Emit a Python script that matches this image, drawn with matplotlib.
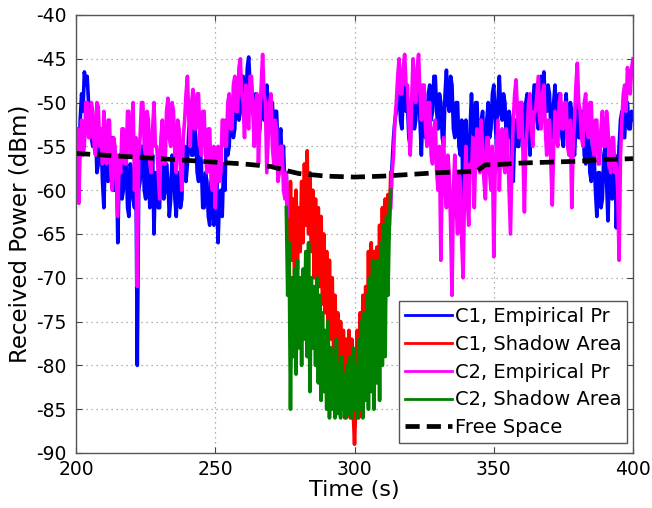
import numpy as np
import matplotlib
matplotlib.use("Agg")
import matplotlib.pyplot as plt

plt.rcParams['font.family'] = ['DejaVu Sans']
plt.rcParams['axes.unicode_minus'] = False

# ---- data, 0.5 s samples ----
# C1 empirical (blue): segment a from 200 s, segment b from 313 s
c1_emp_a = [-53, -56, -58, -52, -49, -51, -46.5, -48, -47, -50,
            -52, -54, -55, -52, -53, -58, -57, -53, -54, -59,
            -62, -56, -55, -59, -58, -54, -54, -60, -60, -56,
            -66, -58, -57, -61, -60, -55, -56, -62, -63, -57,
            -58, -61, -62, -57, -80, -60, -59, -55, -55, -60,
            -61, -56, -57, -62, -60, -56, -65, -58, -58, -62,
            -62, -56, -56, -61, -60, -57, -59, -63, -61, -56,
            -57, -61, -63, -58, -58, -62, -61, -55, -55, -59,
            -57, -53, -52, -56, -56, -52, -54, -58, -59, -55,
            -57, -62, -62, -58, -59, -63, -64, -59, -61, -64,
            -63, -59, -66, -61, -60, -63, -57, -60, -52, -56,
            -55, -51, -50, -54, -53, -49, -49, -52, -51, -47,
            -47, -51, -50, -46, -44.8, -48, -48, -51, -52, -49,
            -50, -54, -53, -50, -49, -52, -51, -48, -50, -53,
            -52, -50, -54, -51, -51, -55, -55, -53, -57, -55,
            -60, -58, -64]
c1_emp_b = [-60, -57, -54, -52, -51, -49, -48, -52, -53, -49,
            -47.5, -51, -50, -54, -55, -50, -49, -53, -52, -48,
            -48, -52, -56, -51, -50, -54, -53, -49, -48, -52,
            -51, -47, -47, -51, -53, -49, -50, -54, -55, -49,
            -46.3, -50, -51, -47, -48, -53, -54, -50, -50, -55,
            -56, -52, -63, -55, -52, -57, -62, -53, -49, -53,
            -54, -50, -50, -55, -56, -52, -51, -55, -58, -52,
            -50, -54, -53, -49, -48, -52, -55, -50, -47, -51,
            -52, -49, -50, -54, -54, -51, -52, -56, -59, -53,
            -52, -55, -55, -51, -50, -53, -54, -50, -49, -53,
            -56, -51, -51, -48, -48, -52, -53, -49, -47, -50,
            -46.5, -50, -51, -48, -49, -53, -54, -50, -48, -52,
            -52, -49, -50, -54, -55, -51, -49, -53, -53, -50,
            -51, -55, -56, -52, -50, -54, -54, -51, -52, -56,
            -57, -53, -53, -58, -59, -55, -56, -60, -63, -58,
            -58, -62, -61, -56, -55, -59, -63.5, -58, -57, -61,
            -60, -56, -64.3, -58, -55, -52, -51, -54, -54, -50,
            -50, -53, -53, -51, -52]
# C2 empirical (magenta)
c2_emp_a = [-57, -53, -61.5, -55, -52, -56, -55, -50, -50, -54,
            -54, -50, -51, -55, -56, -50, -50.5, -55, -53, -57,
            -51, -56, -57, -52, -52, -58, -60, -54, -55, -59,
            -63, -56, -58, -53, -53, -57, -57, -51, -51, -56,
            -55, -50, -60, -54, -71, -56, -54, -50, -50, -55,
            -56, -51, -52, -57, -58, -53, -50, -55, -55, -58,
            -61, -54, -52, -57, -57, -51, -49.5, -54, -55, -50,
            -51, -56, -58, -52, -53, -57, -60, -54, -52, -49,
            -47, -52, -55, -50, -48.5, -53, -53, -49, -49, -55,
            -56, -51, -51, -56, -58, -53, -53, -59, -60, -55,
            -62, -57, -55, -59, -58, -52, -52, -55, -55, -50,
            -49, -53, -53, -48, -47, -51, -51, -46, -45, -49,
            -50, -54, -48, -52, -53, -47, -47, -51, -55, -50,
            -49, -57, -52, -48, -44.5, -49, -50, -58, -54, -50,
            -49, -55, -57, -52, -53, -59, -58, -55, -55, -60,
            -61, -58, -63]
c2_emp_b = [-62, -58, -56, -52, -50, -47, -45, -49, -49, -46,
            -44.5, -48, -48, -52, -56, -50, -45, -49, -50, -46,
            -44.5, -49, -52, -48, -48, -53, -55, -50, -50, -56,
            -57, -53, -52, -58, -60, -55, -68, -58, -54, -60,
            -62, -56, -58, -64, -72, -60, -56, -62, -65, -58,
            -59, -66, -70, -60, -55, -61, -64, -57, -58, -54,
            -62, -56, -53, -57, -58, -52, -55, -59, -61, -54,
            -54, -58, -60, -55, -67.6, -58, -55, -52, -60, -55,
            -53, -57, -58, -53, -55, -60, -65, -57, -52, -49,
            -47.4, -51, -54, -50, -50, -56, -62.5, -55, -53, -50,
            -49, -53, -55, -51, -51, -49, -47, -52, -53, -49,
            -48, -53, -56, -52, -52, -57, -61.7, -55, -51, -54,
            -55, -50, -49, -53, -53, -50, -50, -55, -56, -52,
            -62, -55, -52, -48, -45.5, -50, -51, -54, -55, -50,
            -49, -53, -54, -50, -50, -55, -56, -52, -52, -57,
            -57, -53, -51, -55, -55, -51, -53, -57, -58, -54,
            -54, -58, -57, -60, -68, -56, -52, -49, -48, -51,
            -46, -48, -49, -46, -45]
# C1 shadow area (red), 0.5 s samples from 276 s
c1_shadow = [-62, -70, -59, -68, -61, -71, -60, -69, -62, -67,
             -59, -66, -57, -64, -55.5, -65, -58, -67, -60, -70,
             -61, -72, -62, -71, -63, -73, -65, -74, -67, -76,
             -68, -77, -70, -79, -72, -81, -74, -83, -75, -85,
             -76, -86, -77, -85.5, -76, -86, -77, -85, -89, -84,
             -76, -86, -74, -85, -72, -83, -71, -80, -67, -78,
             -66, -75, -67, -77, -66.5, -74, -64, -76, -62, -78,
             -61, -70, -60.5, -64, -58]
# C2 shadow area (green), 0.5 s samples from 275.5 s
c2_shadow = [-62, -72, -66, -85, -70, -79, -69, -81, -68, -78,
             -70, -80, -69, -77, -67, -79, -66, -83, -70, -78,
             -71, -80, -70, -82, -72, -84, -74, -83, -76, -85,
             -75, -86, -78, -85, -79, -86, -77, -85.5, -80, -86,
             -79, -85, -81, -86, -80, -85.5, -79, -86, -78, -85,
             -80, -86, -77, -85, -75, -86, -74, -84, -72, -85,
             -70, -83, -68, -85, -69, -82, -68, -84, -66, -80,
             -64, -79, -63, -72, -64, -60]
# Free space model
fs_time = [200, 210, 220, 230, 240, 250, 260, 270, 276, 280, 290, 300,
           310, 320, 330, 340, 344, 347, 350, 360, 370, 380, 390, 400]
fs_power = [-55.8, -56.0, -56.2, -56.4, -56.6, -56.8, -57.0, -57.3, -57.8,
            -58.1, -58.4, -58.5, -58.4, -58.2, -58.0, -57.9, -57.8, -57.1,
            -57.1, -56.9, -56.8, -56.7, -56.5, -56.4]

labels = ["C1, Empirical Pr", "C1, Shadow Area", "C2, Empirical Pr",
          "C2, Shadow Area", "Free Space"]
x_ticks = [200, 250, 300, 350, 400]
y_ticks = [-90, -85, -80, -75, -70, -65, -60, -55, -50, -45, -40]

# ---- time bases ----
def tb(start, step, vals):
    return start + step * np.arange(len(vals))

t1a, t1b = tb(200, 0.5, c1_emp_a), tb(313, 0.5, c1_emp_b)
t2a, t2b = tb(200, 0.5, c2_emp_a), tb(313, 0.5, c2_emp_b)
t1s = tb(276, 0.5, c1_shadow)
t2s = tb(275.5, 0.5, c2_shadow)

blue_t = np.concatenate([t1a, [np.nan], t1b])
blue_v = np.concatenate([c1_emp_a, [np.nan], c1_emp_b])
mag_t = np.concatenate([t2a, [np.nan], t2b])
mag_v = np.concatenate([c2_emp_a, [np.nan], c2_emp_b])

fig = plt.figure(figsize=(6.52, 5.08), dpi=100)
ax = fig.add_axes([0.1166, 0.1083, 0.9709 - 0.1166, 0.9705 - 0.1083])

lw = 2.6
ax.plot(blue_t, blue_v, color='#0000FF', lw=lw, label=labels[0])
ax.plot(t1s, c1_shadow, color='#FF0000', lw=lw, label=labels[1])
ax.plot(mag_t, mag_v, color='#FF00FF', lw=lw, label=labels[2])
ax.plot(t2s, c2_shadow, color='#008000', lw=lw, label=labels[3])
ax.plot(fs_time, fs_power, color='black', lw=3.4, dashes=(3, 1.5),
        label=labels[4])

ax.set_xlim(200, 400)
ax.set_ylim(-90, -40)
ax.set_xticks(x_ticks)
ax.set_yticks(y_ticks)
ax.tick_params(direction='in', top=True, right=True, labelsize=13.5,
               length=4, color='#444444')
ax.tick_params(axis='y', pad=7)
ax.tick_params(axis='x', pad=5)
ax.grid(True, linestyle=(0, (1, 3)), color='#999999', lw=0.9)
for s in ax.spines.values():
    s.set_color('#555555')
    s.set_linewidth(1.0)
ax.set_xlabel("Time (s)", fontsize=16, labelpad=1)
ax.set_ylabel("Received Power (dBm)", fontsize=16.5, labelpad=3)

leg = ax.legend(loc='lower right', bbox_to_anchor=(0.989, 0.023),
                borderaxespad=0, fontsize=14, fancybox=False,
                framealpha=1, edgecolor='#555555', handlelength=2.4,
                handletextpad=0.15, labelspacing=0.45, borderpad=0.3)
leg.get_frame().set_linewidth(1.0)
for h in leg.get_lines()[:4]:
    h.set_linewidth(2.0)

fig.savefig("out.png", dpi=100)
